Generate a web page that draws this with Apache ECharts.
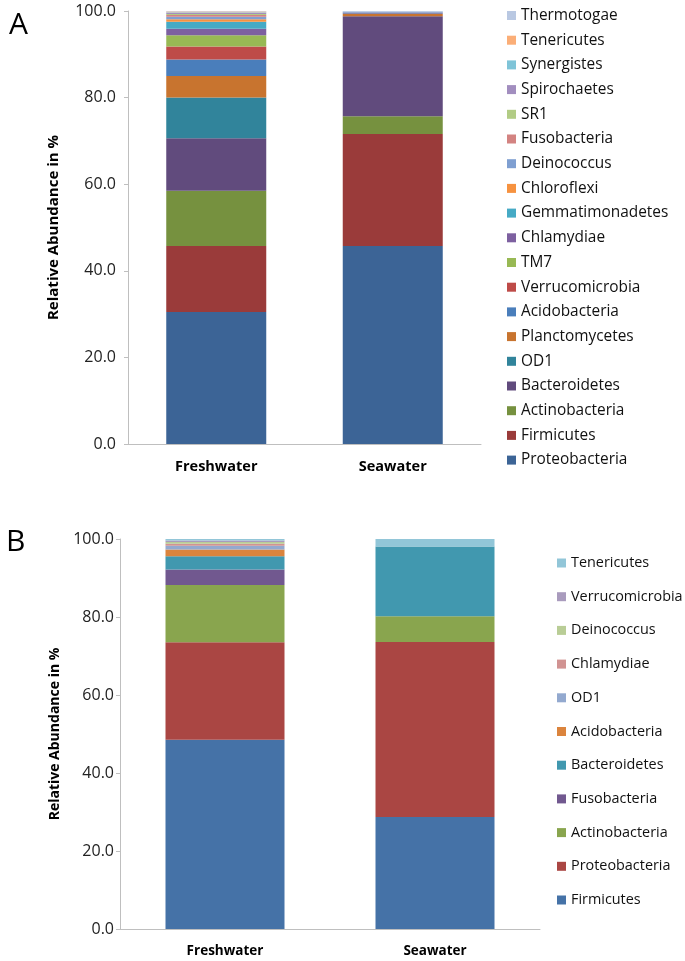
<!DOCTYPE html>
<html>
<head>
<meta charset="utf-8">
<script src="https://cdn.jsdelivr.net/npm/echarts@6/dist/echarts.min.js"></script>
<style>
html, body { margin: 0; padding: 0; background: #fff; }
#main { width: 685px; height: 961px; }
</style>
</head>
<body>
<div id="main"></div>
<script>
// categories
var categories = ['Freshwater', 'Seawater'];

// panel A: phyla from the bottom of the stack upwards
var phylaA = ['Proteobacteria', 'Firmicutes', 'Actinobacteria', 'Bacteroidetes', 'OD1',
    'Planctomycetes', 'Acidobacteria', 'Verrucomicrobia', 'TM7', 'Chlamydiae',
    'Gemmatimonadetes', 'Chloroflexi', 'Deinococcus', 'Fusobacteria', 'SR1',
    'Spirochaetes', 'Synergistes', 'Tenericutes', 'Thermotogae'];
var freshA = [30.5, 15.2, 12.8, 12.1, 9.4, 5.0, 3.8, 3.0, 2.6, 1.5, 1.6, 0.6, 0.6, 0.4, 0.2, 0.3, 0.1, 0.2, 0.1];
var seaA   = [45.7, 25.9, 4.1, 23.1, 0.0, 0.5, 0.2, 0.1, 0.0, 0.0, 0.0, 0.0, 0.2, 0.0, 0.0, 0.0, 0.0, 0.0, 0.2];
var colorsA = ['#3c6496', '#9a3b3a', '#76913f', '#614b7d', '#31849b',
    '#c8742f', '#4a7ebb', '#be4b48', '#98b954', '#7d60a0',
    '#46aac5', '#f69240', '#7f9fd1', '#d38381', '#b2cc85',
    '#a28ebf', '#7fc4d8', '#fbae77', '#b9c8e2'];

// panel B
var phylaB = ['Firmicutes', 'Proteobacteria', 'Actinobacteria', 'Fusobacteria', 'Bacteroidetes',
    'Acidobacteria', 'OD1', 'Chlamydiae', 'Deinococcus', 'Verrucomicrobia', 'Tenericutes'];
var freshB = [48.5, 25.0, 14.7, 4.0, 3.4, 1.7, 1.0, 0.5, 0.4, 0.4, 0.4];
var seaB   = [28.7, 44.9, 6.6, 0.0, 17.9, 0.0, 0.0, 0.0, 0.0, 0.0, 1.9];
var colorsB = ['#4572a7', '#aa4643', '#89a54e', '#71588f', '#4198af',
    '#db843d', '#93a9cf', '#d19392', '#b9cd96', '#a99bbd', '#92c6d8'];

var FONT = '"Open Sans", "Noto Sans", sans-serif';
var PREFIX_B = 'B:';

var chart = echarts.init(document.getElementById('main'));

var series = [];
phylaA.forEach(function (name, i) {
    series.push({
        name: name,
        type: 'bar',
        stack: 'A',
        xAxisIndex: 0,
        yAxisIndex: 0,
        barWidth: 100,
        itemStyle: { color: colorsA[i] },
        data: [freshA[i], seaA[i]]
    });
});
phylaB.forEach(function (name, i) {
    series.push({
        name: PREFIX_B + name,
        type: 'bar',
        stack: 'B',
        xAxisIndex: 1,
        yAxisIndex: 1,
        barWidth: 119,
        itemStyle: { color: colorsB[i] },
        data: [freshB[i], seaB[i]]
    });
});

function yAxisFor(gridIndex, nameGap, labelMargin, nameSize) {
    return {
        type: 'value',
        gridIndex: gridIndex,
        min: 0,
        max: 100,
        interval: 20,
        name: 'Relative Abundance in %',
        nameLocation: 'middle',
        nameGap: nameGap,
        nameTextStyle: { fontFamily: FONT, fontSize: nameSize, fontWeight: 'bold', color: '#000' },
        axisLine: { show: true, lineStyle: { color: '#bfbfbf', width: 1 } },
        axisTick: { show: true, length: 4, lineStyle: { color: '#bfbfbf' } },
        splitLine: { show: false },
        axisLabel: {
            margin: labelMargin,
            fontFamily: FONT,
            fontSize: 16,
            color: '#222',
            formatter: function (v) { return v.toFixed(1); }
        }
    };
}

function xAxisFor(gridIndex, fontSize) {
    return {
        type: 'category',
        gridIndex: gridIndex,
        data: categories,
        axisLine: { lineStyle: { color: '#bfbfbf', width: 1 } },
        axisTick: { show: false },
        axisLabel: { margin: 15, fontFamily: FONT, fontSize: fontSize, fontWeight: 'bold', color: '#000' }
    };
}

var option = {
    animation: false,
    backgroundColor: '#fff',
    grid: [
        { left: 128, top: 11, width: 353, height: 433 },
        { left: 120, top: 539, width: 420, height: 390 }
    ],
    xAxis: [xAxisFor(0, 14.5), xAxisFor(1, 13.5)],
    yAxis: [yAxisFor(0, 67, 12, 15), yAxisFor(1, 55, 6, 14)],
    legend: [
        {
            orient: 'vertical',
            left: 507,
            top: 7,
            padding: 0,
            icon: 'rect',
            itemWidth: 9,
            itemHeight: 9,
            itemGap: 7.7,
            textStyle: { fontFamily: FONT, fontSize: 15.4, color: '#111', lineHeight: 17 },
            data: phylaA.slice().reverse()
        },
        {
            orient: 'vertical',
            left: 557,
            top: 555,
            padding: 0,
            icon: 'rect',
            itemWidth: 9,
            itemHeight: 9,
            itemGap: 17.7,
            textStyle: { fontFamily: FONT, fontSize: 14.4, color: '#111', lineHeight: 16 },
            formatter: function (name) { return name.replace(PREFIX_B, ''); },
            data: phylaB.map(function (n) { return PREFIX_B + n; }).reverse()
        }
    ],
    graphic: [
        { type: 'text', left: 9, top: 10, style: { text: 'A', fontFamily: FONT, fontSize: 30, fill: '#000' } },
        { type: 'text', left: 6, top: 527, style: { text: 'B', fontFamily: FONT, fontSize: 30, fill: '#000' } }
    ],
    series: series
};

chart.setOption(option);
</script>
</body>
</html>
